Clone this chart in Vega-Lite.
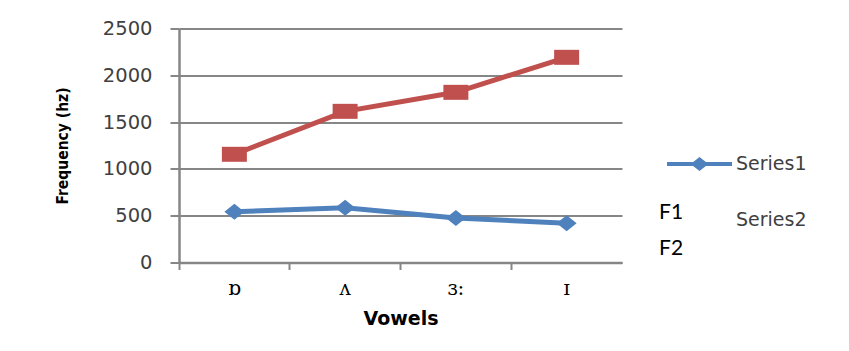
{
  "$schema": "https://vega.github.io/schema/vega-lite/v6.json",
  "autosize": "none",
  "width": 443,
  "height": 234,
  "padding": {"left": 179, "top": 28.5, "right": 227, "bottom": 88.5},
  "background": "white",
  "config": {"view": {"stroke": null}},
  "data": {
    "values": [
      {"vowel": "ɒ", "series": "Series1", "formant": "F1", "freq": 543},
      {"vowel": "ʌ", "series": "Series1", "formant": "F1", "freq": 585},
      {"vowel": "ɜ:", "series": "Series1", "formant": "F1", "freq": 475},
      {"vowel": "ɪ", "series": "Series1", "formant": "F1", "freq": 420},
      {"vowel": "ɒ", "series": "Series2", "formant": "F2", "freq": 1156},
      {"vowel": "ʌ", "series": "Series2", "formant": "F2", "freq": 1615},
      {"vowel": "ɜ:", "series": "Series2", "formant": "F2", "freq": 1818},
      {"vowel": "ɪ", "series": "Series2", "formant": "F2", "freq": 2192}
    ]
  },
  "encoding": {
    "x": {
      "field": "vowel",
      "type": "nominal",
      "sort": null,
      "scale": {"type": "band", "paddingInner": 0, "paddingOuter": 0},
      "axis": {
        "grid": false,
        "bandPosition": 0,
        "domainColor": "#868686",
        "domainWidth": 2.5,
        "tickColor": "#868686",
        "tickWidth": 2,
        "tickSize": 7,
        "labelAngle": 0,
        "labelFont": "DejaVu Serif",
        "labelFontSize": 20,
        "labelColor": "#000000",
        "labelPadding": 9,
        "title": "Vowels",
        "titleFont": "DejaVu Sans",
        "titleFontWeight": "bold",
        "titleFontSize": 19,
        "titleColor": "#000000",
        "titlePadding": 11
      }
    },
    "y": {
      "field": "freq",
      "type": "quantitative",
      "scale": {"domain": [0, 2500]},
      "axis": {
        "values": [0, 500, 1000, 1500, 2000, 2500],
        "format": "d",
        "grid": true,
        "gridColor": "#868686",
        "gridWidth": 2,
        "domainColor": "#868686",
        "domainWidth": 2.5,
        "tickColor": "#868686",
        "tickWidth": 2,
        "tickSize": 9,
        "labelFont": "DejaVu Sans",
        "labelFontSize": 19.5,
        "labelColor": "#404040",
        "labelPadding": 18,
        "title": "Frequency (hz)",
        "titleFont": "DejaVu Sans Condensed",
        "titleFontWeight": "bold",
        "titleFontSize": 15.5,
        "titleColor": "#000000",
        "titlePadding": 32
      }
    },
    "color": {
      "field": "series",
      "type": "nominal",
      "scale": {"domain": ["Series1", "Series2"], "range": ["#4F81BD", "#C0504D"]},
      "legend": {
        "title": null,
        "orient": "none",
        "legendX": 510,
        "legendY": 125,
        "padding": 0,
        "symbolType": "M-4,0H4M-0.7,0L0,-0.55L0.7,0L0,0.55Z",
        "symbolSize": 264,
        "symbolStrokeWidth": 4,
        "symbolFillColor": "#4F81BD",
        "symbolOpacity": {"expr": "datum.value === 'Series1' ? 1 : 0"},
        "labelOffset": 26,
        "labelFont": "DejaVu Sans",
        "labelFontSize": 19,
        "labelColor": "#404040",
        "rowPadding": 33
      }
    }
  },
  "layer": [
    {"mark": {"type": "line", "strokeWidth": 5}},
    {
      "mark": {"type": "point", "filled": true, "opacity": 1, "size": 625},
      "encoding": {
        "shape": {
          "field": "formant",
          "type": "nominal",
          "scale": {
            "domain": ["F1", "F2"],
            "range": ["M-0.8,0L0,-0.64L0.8,0L0,0.64Z", "M-1,-0.6H1V0.6H-1Z"]
          },
          "legend": {
            "title": null,
            "orient": "none",
            "legendX": 459,
            "legendY": 174,
            "padding": 0,
            "symbolSize": 1,
            "symbolOpacity": 0,
            "symbolFillColor": "transparent",
            "symbolStrokeColor": "transparent",
            "labelOffset": 0,
            "labelFont": "Lato",
            "labelFontSize": 21,
            "labelColor": "#000000",
            "rowPadding": 14
          }
        }
      }
    }
  ]
}
